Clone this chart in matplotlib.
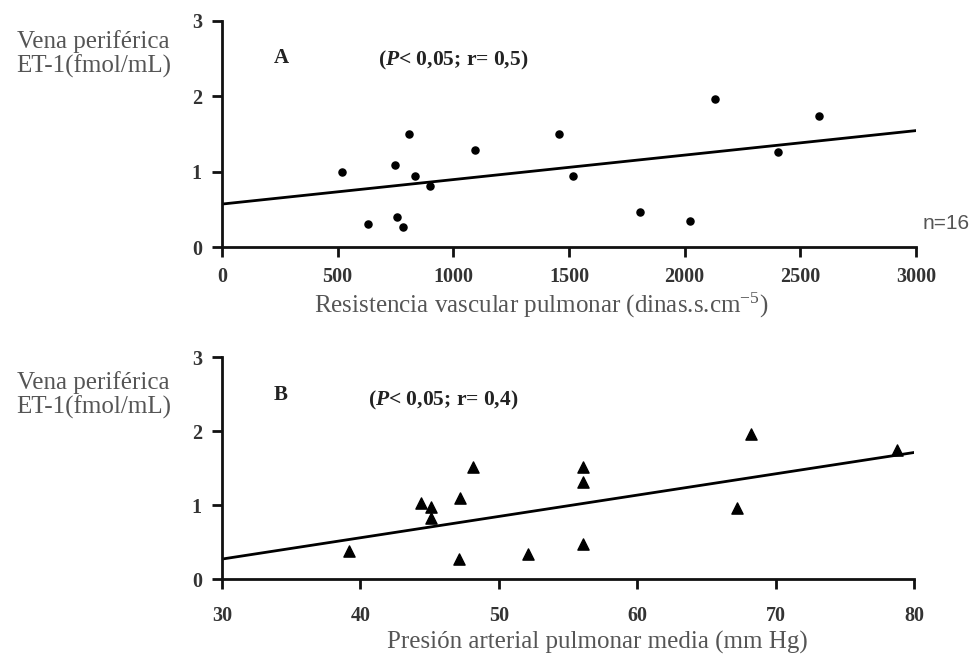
import matplotlib
matplotlib.use("Agg")
import matplotlib.pyplot as plt

# panel A: pulmonary vascular resistance vs ET-1
rvp_x = [520, 749, 807, 836, 900, 1095, 1455, 1517, 631, 757, 782, 1806, 2131, 2580, 2405, 2022]
rvp_y = [1.00, 1.09, 1.50, 0.94, 0.81, 1.29, 1.50, 0.94, 0.31, 0.40, 0.27, 0.47, 1.96, 1.74, 1.26, 0.35]
line_a_x = [0, 3000]
line_a_y = [0.57, 1.545]

# panel B: mean pulmonary arterial pressure vs ET-1
pap_x = [39.2, 44.4, 45.1, 45.1, 47.2, 48.1, 47.1, 52.1, 56.1, 56.1, 56.1, 67.2, 68.2, 78.8]
pap_y = [0.38, 1.03, 0.97, 0.82, 1.10, 1.51, 0.27, 0.34, 1.51, 1.31, 0.48, 0.96, 1.96, 1.74]
line_b_x = [30, 80]
line_b_y = [0.27, 1.71]

plt.rcParams['font.family'] = 'Liberation Serif'
plt.rcParams['mathtext.fontset'] = 'custom'
plt.rcParams['mathtext.rm'] = 'Liberation Serif'
plt.rcParams['mathtext.it'] = 'Liberation Serif:italic'
plt.rcParams['mathtext.bf'] = 'Liberation Serif:bold'
plt.rcParams['mathtext.bfit'] = 'Liberation Serif:bold:italic'

ylab = 'Vena periférica\nET-1(fmol/mL)'
gray = '#555555'
dark = '#222222'

fig = plt.figure(figsize=(9.72, 6.58), dpi=100)
ax1 = fig.add_axes([0.2284, 0.6246, 0.714, 0.3435])
ax2 = fig.add_axes([0.2284, 0.1200, 0.712, 0.3374])


def style(ax, xmin, xmax, xticks, xpad):
    ax.set_xlim(xmin, xmax)
    ax.set_ylim(0, 3)
    ax.set_xticks(xticks)
    ax.set_yticks([0, 1, 2, 3])
    for s in ['top', 'right']:
        ax.spines[s].set_visible(False)
    for s in ['left', 'bottom']:
        ax.spines[s].set_linewidth(2)
        ax.spines[s].set_color('#111111')
    ax.tick_params(width=2, length=7.5, color='#111111')
    ax.tick_params(axis='y', pad=7)
    ax.tick_params(axis='x', pad=xpad)
    for lab in ax.get_xticklabels() + ax.get_yticklabels():
        lab.set_fontweight('bold')
        lab.set_fontsize(14.5)
        lab.set_color('#333333')


style(ax1, 0, 3000, [0, 500, 1000, 1500, 2000, 2500, 3000], 7)
ax1.scatter(rvp_x, rvp_y, s=26, color='black', zorder=3, clip_on=False)
ax1.plot(line_a_x, line_a_y, color='black', lw=2)
fig.text(0.5566, 0.5365, 'Resistencia vascular pulmonar (dinas.s.cm$^{-5}$)',
         ha='center', va='center', fontsize=18, color=gray)
fig.text(0.096, 0.918, ylab, ha='center', va='center', fontsize=18, color=gray, linespacing=1.08)
ax1.text(0.085, 0.836, 'A', transform=ax1.transAxes, fontsize=15, fontweight='bold',
         ha='center', va='center', color=dark)
ax1.text(0.225, 0.827, r'($\mathbfit{P}$< 0,05; r= 0,5)', transform=ax1.transAxes,
         fontsize=15.5, fontweight='bold', va='center', color=dark)
fig.text(0.998, 0.661, 'n=16', ha='right', va='center', fontsize=15, color=gray, family='Liberation Sans')

style(ax2, 30, 80, [30, 40, 50, 60, 70, 80], 12)
ax2.scatter(pap_x, pap_y, s=65, marker='^', color='black', zorder=3, clip_on=False)
ax2.plot(line_b_x, line_b_y, color='black', lw=2)
fig.text(0.615, 0.023, 'Presión arterial pulmonar media (mm Hg)',
         ha='center', va='center', fontsize=18, color=gray)
fig.text(0.096, 0.3997, ylab, ha='center', va='center', fontsize=18, color=gray, linespacing=1.08)
ax2.text(0.085, 0.829, 'B', transform=ax2.transAxes, fontsize=15, fontweight='bold',
         ha='center', va='center', color=dark)
ax2.text(0.211, 0.806, r'($\mathbfit{P}$< 0,05; r= 0,4)', transform=ax2.transAxes,
         fontsize=15.5, fontweight='bold', va='center', color=dark)

fig.savefig('out.png', dpi=100)
